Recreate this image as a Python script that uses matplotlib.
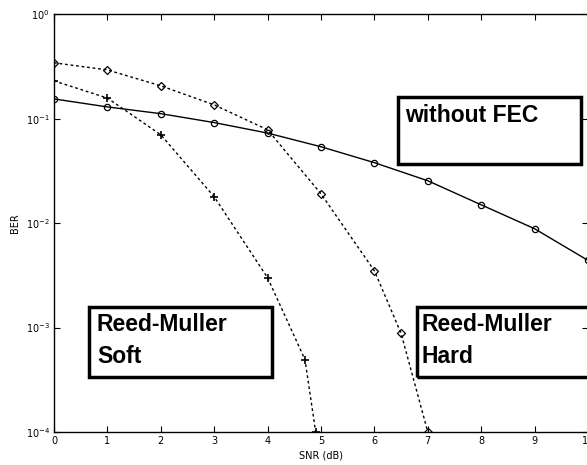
import numpy as np
import matplotlib.pyplot as plt
from matplotlib.patches import Rectangle

# SNR points and bit error rates for each scheme
snr_uncoded = [0, 1, 2, 3, 4, 5, 6, 7, 8, 9, 10]
ber_uncoded = [0.155, 0.13, 0.112, 0.092, 0.073, 0.054, 0.038, 0.0255, 0.015, 0.00885, 0.0044]

snr_hard = [0, 1, 2, 3, 4, 5, 6, 6.5, 7]
ber_hard = [0.344, 0.294, 0.207, 0.136, 0.0785, 0.0191, 0.0035, 0.00088, 1e-4]

snr_soft = [0, 1, 2, 3, 4, 4.7, 4.9]
ber_soft = [0.231, 0.158, 0.0703, 0.0179, 0.003, 0.000494, 1e-4]

xticks = list(range(0, 11))

fig = plt.figure(figsize=(5.87, 4.65), dpi=100)
ax = fig.add_axes([0.092, 0.071, 0.9097, 0.898])

dotted = (0, (2, 2))
ax.semilogy(snr_uncoded, ber_uncoded, '-', color='k', lw=1.0,
            marker='o', ms=4.5, mfc='none', mec='k', mew=0.9)
ax.semilogy(snr_hard, ber_hard, linestyle=dotted, color='k', lw=1.0,
            marker='D', ms=4, mfc='none', mec='k', mew=0.9)
ax.semilogy(snr_soft, ber_soft, linestyle=dotted, color='k', lw=1.0,
            marker='+', ms=6, mec='k', mew=1.2)

ax.set_xlim(0, 10)
ax.set_ylim(1e-4, 1)
ax.set_xticks(xticks)
ax.set_yticks([1e-4, 1e-3, 1e-2, 1e-1, 1])
ax.yaxis.set_minor_locator(plt.NullLocator())
ax.tick_params(direction='in', length=4, width=0.8, labelsize=7,
               top=True, right=True, pad=3)
for s in ax.spines.values():
    s.set_linewidth(1.0)

ax.set_xlabel('SNR (dB)', fontsize=7, labelpad=3)
ax.set_ylabel('BER', fontsize=7, labelpad=4)

# boxed annotations
boxes = [
    ((0.644, 0.642), 0.343, 0.160),
    ((0.0655, 0.132), 0.343, 0.167),
    ((0.680, 0.132), 0.343, 0.167),
]
for (x0, y0), w, h in boxes:
    ax.add_patch(Rectangle((x0, y0), w, h, transform=ax.transAxes,
                           fill=False, ec='k', lw=2.5, clip_on=False))

tfont = dict(fontsize=16.5, family='Liberation Sans', weight='bold',
             va='top', ha='left', transform=ax.transAxes, linespacing=1.5)
ax.text(0.657, 0.785, 'without FEC', **tfont)
ax.text(0.0805, 0.284, 'Reed-Muller\nSoft', **tfont)
ax.text(0.689, 0.284, 'Reed-Muller\nHard', **tfont)

fig.savefig('out.png', dpi=100)
